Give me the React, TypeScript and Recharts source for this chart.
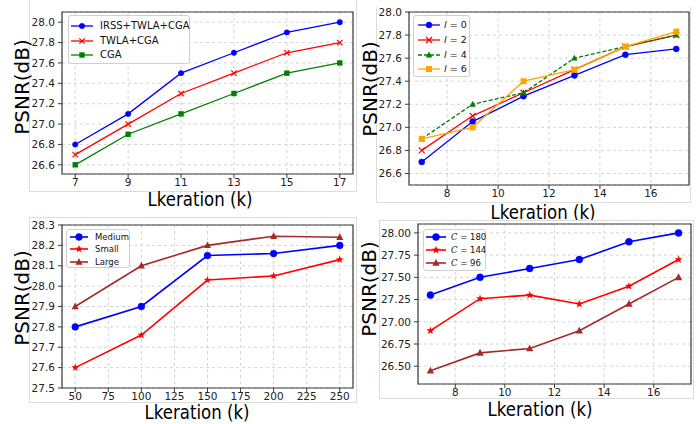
import React from "react";
import { LineChart, Line, XAxis, YAxis, CartesianGrid, ReferenceArea } from "recharts";

// x values
const kSteps = [7, 9, 11, 13, 15, 17];
const sizeSteps = [50, 100, 150, 200, 250];

// top-left: ablation
const irssTwlaCga = [26.8, 27.1, 27.5, 27.7, 27.9, 28.0];
const twlaCga = [26.7, 27.0, 27.3, 27.5, 27.7, 27.8];
const cgaOnly = [26.6, 26.9, 27.1, 27.3, 27.5, 27.6];

// top-right: l
const lZero = [26.7, 27.05, 27.27, 27.45, 27.63, 27.68];
const lTwo = [26.8, 27.1, 27.3, 27.5, 27.7, 27.8];
const lFour = [26.9, 27.2, 27.3, 27.6, 27.7, 27.8];
const lSix = [26.9, 27.0, 27.4, 27.5, 27.7, 27.83];

// bottom-left: model size
const medium = [27.8, 27.9, 28.15, 28.16, 28.2];
const small = [27.6, 27.76, 28.03, 28.05, 28.13];
const large = [27.9, 28.1, 28.2, 28.245, 28.24];

// bottom-right: C
const c180 = [27.3, 27.5, 27.6, 27.7, 27.9, 28.0];
const c144 = [26.9, 27.26, 27.3, 27.2, 27.4, 27.7];
const c96 = [26.45, 26.65, 26.7, 26.9, 27.2, 27.5];

// ticks
const kTicksOdd = [7, 9, 11, 13, 15, 17];
const kTicksEven = [8, 10, 12, 14, 16];
const sizeTicks = [50, 75, 100, 125, 150, 175, 200, 225, 250];
const psnrTicksA = [26.6, 26.8, 27.0, 27.2, 27.4, 27.6, 27.8, 28.0];
const psnrTicksB = [27.5, 27.6, 27.7, 27.8, 27.9, 28.0, 28.1, 28.2, 28.3];
const psnrTicksC = [26.5, 26.75, 27.0, 27.25, 27.5, 27.75, 28.0];

const FONT = "'DejaVu Sans', sans-serif";
const FRAME = "#3a3a3a";
const PANEL_EDGE = "#dcdcdc";

type Shape = "circle" | "square" | "x" | "triangle" | "star";
interface Series { name: React.ReactNode; key: string; values: number[]; color: string; shape: Shape; dash?: string }

function Marker({ shape, cx, cy, r, color }: { shape: Shape; cx: number; cy: number; r: number; color: string }) {
    if (cx == null || cy == null) return null;
    switch (shape) {
        case "circle":
            return <circle cx={cx} cy={cy} r={r} fill={color} stroke={color} strokeWidth={0.5} />;
        case "square":
            return <rect x={cx - r} y={cy - r} width={2 * r} height={2 * r} fill={color} />;
        case "x":
            return <path d={`M${cx - r},${cy - r}L${cx + r},${cy + r}M${cx - r},${cy + r}L${cx + r},${cy - r}`} stroke={color} strokeWidth={1.2} fill="none" />;
        case "triangle":
            return <polygon points={`${cx},${cy - r * 1.15} ${cx + r * 1.05},${cy + r * 0.8} ${cx - r * 1.05},${cy + r * 0.8}`} fill={color} />;
        case "star": {
            const pts: string[] = [];
            for (let i = 0; i < 10; i++) {
                const rr = i % 2 === 0 ? r * 1.2 : r * 0.5;
                const a = -Math.PI / 2 + (i * Math.PI) / 5;
                pts.push(`${cx + rr * Math.cos(a)},${cy + rr * Math.sin(a)}`);
            }
            return <polygon points={pts.join(" ")} fill={color} />;
        }
    }
    return null;
}

interface LegendCfg { left: number; top: number; w: number; h: number; first: number; gap: number; sx: number; sw: number; tx: number; fontSize: number }

function LegendBox({ cfg, series, r, lw }: { cfg: LegendCfg; series: Series[]; r: number; lw: number }) {
    return (
        <div style={{ position: "absolute", left: cfg.left, top: cfg.top, width: cfg.w, height: cfg.h, border: "1px solid #cfcfcf", borderRadius: 3, background: "rgba(255,255,255,0.85)", boxSizing: "border-box" }}>
            {series.map((s, i) => {
                const cy = cfg.first + i * cfg.gap;
                return (
                    <React.Fragment key={s.key}>
                        <svg style={{ position: "absolute", left: cfg.sx, top: cy - 6 }} width={cfg.sw} height={12}>
                            <line x1={0} y1={6} x2={cfg.sw} y2={6} stroke={s.color} strokeWidth={lw} strokeDasharray={s.dash} />
                            <Marker shape={s.shape} cx={cfg.sw / 2} cy={6} r={r} color={s.color} />
                        </svg>
                        <div style={{ position: "absolute", left: cfg.tx, top: cy, transform: "translateY(-50%)", fontFamily: FONT, fontSize: cfg.fontSize, lineHeight: 1, whiteSpace: "nowrap", color: "#111" }}>{s.name}</div>
                    </React.Fragment>
                );
            })}
        </div>
    );
}

interface PanelProps {
    left: number; top: number; width: number; height: number;
    margin: { top: number; right: number; bottom: number; left: number };
    yWidth: number;
    xs: number[]; series: Series[];
    xDomain: [number, number]; xTicks: number[];
    yDomain: [number, number]; yTicks: number[]; yDigits: number;
    r: number; lw: number;
    legend: LegendCfg;
    edge: { left: number; top: number; right: number; bottom: number; topLine: boolean; fill: boolean };
    yLabel: [number, number]; xLabel: [number, number];
}

function Panel(p: PanelProps) {
    const rows = p.xs.map((x, i) => {
        const row: Record<string, number> = { x };
        p.series.forEach(s => { row[s.key] = s.values[i]; });
        return row;
    });
    const tickStyle = { fontSize: 10.5, fill: "#222", fontFamily: FONT };
    return (
        <>
            <div style={{
                position: "absolute", left: p.edge.left, top: p.edge.top, width: p.edge.right - p.edge.left, height: p.edge.bottom - p.edge.top,
                borderLeft: `1px solid ${PANEL_EDGE}`, borderRight: `1px solid ${PANEL_EDGE}`, borderBottom: `1px solid ${PANEL_EDGE}`,
                borderTop: p.edge.topLine ? `1px solid ${PANEL_EDGE}` : "none", background: p.edge.fill ? "#fff" : "transparent", boxSizing: "border-box",
            }} />
            <div style={{ position: "absolute", left: p.left, top: p.top }}>
                <LineChart width={p.width} height={p.height} data={rows} margin={p.margin}>
                    <CartesianGrid strokeDasharray="3 3" stroke="#d4d4d4" />
                    <XAxis dataKey="x" type="number" domain={p.xDomain} ticks={p.xTicks} allowDataOverflow axisLine={false}
                        tickLine={{ stroke: FRAME }} tickSize={4} tickMargin={1} height={20} tick={tickStyle} interval={0} />
                    <YAxis type="number" domain={p.yDomain} ticks={p.yTicks} allowDataOverflow axisLine={false} width={p.yWidth}
                        tickLine={{ stroke: FRAME }} tickSize={4} tickMargin={3} tick={tickStyle} interval={0}
                        tickFormatter={(v: number) => v.toFixed(p.yDigits)} />
                    <ReferenceArea x1={p.xDomain[0]} x2={p.xDomain[1]} y1={p.yDomain[0]} y2={p.yDomain[1]} fill="none" fillOpacity={0} stroke={FRAME} strokeWidth={1.2} ifOverflow="visible" />
                    {p.series.map(s => (
                        <Line key={s.key} dataKey={s.key} type="linear" stroke={s.color} strokeWidth={p.lw} strokeDasharray={s.dash}
                            isAnimationActive={false}
                            dot={(d: any) => <Marker key={`${s.key}-${d.index}`} shape={s.shape} cx={d.cx} cy={d.cy} r={p.r} color={s.color} />} />
                    ))}
                </LineChart>
            </div>
            <div style={{ position: "absolute", left: p.yLabel[0], top: p.yLabel[1], transform: "translate(-50%,-50%) rotate(-90deg)", fontFamily: FONT, fontSize: 20, lineHeight: 1, whiteSpace: "nowrap", color: "#000" }}>PSNR(dB)</div>
            <div style={{ position: "absolute", left: p.xLabel[0], top: p.xLabel[1], transform: "translate(-50%,-50%) scaleX(0.85)", fontFamily: FONT, fontSize: 19.5, lineHeight: 0.9, whiteSpace: "nowrap", color: "#000" }}>Lkeration (k)</div>
            <LegendBox cfg={p.legend} series={p.series} r={p.r} lw={p.lw} />
        </>
    );
}

const lName = (n: number) => <span><i>l</i> = {n}</span>;
const cName = (n: number) => <span><i style={{ fontFamily: "'DejaVu Serif', serif" }}>C</i> = {n}</span>;

export default function App() {
    return (
        <div style={{ position: "absolute", left: 0, top: 0, width: 699, height: 424, background: "#fff", overflow: "hidden" }}>
            {/* top-left */}
            <Panel left={0} top={0} width={360} height={215} margin={{ top: 12, right: 7, bottom: 21, left: 17 }} yWidth={45}
                xs={kSteps} xDomain={[6.5, 17.5]} xTicks={kTicksOdd} yDomain={[26.51, 28.1]} yTicks={psnrTicksA} yDigits={1}
                series={[
                    { key: "a", name: "IRSS+TWLA+CGA", values: irssTwlaCga, color: "#0000ff", shape: "circle" },
                    { key: "b", name: "TWLA+CGA", values: twlaCga, color: "#ff0000", shape: "x" },
                    { key: "c", name: "CGA", values: cgaOnly, color: "#008000", shape: "square" },
                ]}
                r={2.7} lw={1.3}
                legend={{ left: 68, top: 15, w: 122, h: 49, first: 10, gap: 14.7, sx: 2, sw: 22, tx: 31, fontSize: 10 }}
                edge={{ left: 29, top: -2, right: 357, bottom: 192, topLine: false, fill: false }}
                yLabel={[22, 87]} xLabel={[200, 199.5]} />
            {/* top-right */}
            <Panel left={360} top={0} width={339} height={215} margin={{ top: 12, right: 10, bottom: 10, left: 9 }} yWidth={40}
                xs={kSteps} xDomain={[6.5, 17.5]} xTicks={kTicksEven} yDomain={[26.5, 28.0]} yTicks={psnrTicksA} yDigits={1}
                series={[
                    { key: "a", name: lName(0), values: lZero, color: "#0000ff", shape: "circle" },
                    { key: "b", name: lName(2), values: lTwo, color: "#ff0000", shape: "x" },
                    { key: "c", name: lName(4), values: lFour, color: "#008000", shape: "triangle", dash: "4 2" },
                    { key: "d", name: lName(6), values: lSix, color: "#ffa500", shape: "square" },
                ]}
                r={3} lw={1.3}
                legend={{ left: 413, top: 15, w: 57, h: 62, first: 9.3, gap: 14.6, sx: 4, sw: 22, tx: 30, fontSize: 9.5 }}
                edge={{ left: 376, top: 7, right: 691, bottom: 203, topLine: false, fill: false }}
                yLabel={[370, 89]} xLabel={[543, 213]} />
            {/* bottom-left */}
            <Panel left={0} top={210} width={360} height={214} margin={{ top: 15, right: 7, bottom: 16, left: 17 }} yWidth={45}
                xs={sizeSteps} xDomain={[40, 260]} xTicks={sizeTicks} yDomain={[27.5, 28.3]} yTicks={psnrTicksB} yDigits={1}
                series={[
                    { key: "a", name: "Medium", values: medium, color: "#0000ff", shape: "circle" },
                    { key: "b", name: "Small", values: small, color: "#ff0000", shape: "star" },
                    { key: "c", name: "Large", values: large, color: "#a52a2a", shape: "triangle" },
                ]}
                r={3.4} lw={1.6}
                legend={{ left: 66, top: 229, w: 64, h: 39, first: 6.7, gap: 12.7, sx: 3, sw: 18, tx: 28, fontSize: 8.5 }}
                edge={{ left: 29, top: 217, right: 357, bottom: 403, topLine: true, fill: true }}
                yLabel={[22, 298]} xLabel={[197, 413]} />
            {/* bottom-right */}
            <Panel left={360} top={210} width={339} height={214} margin={{ top: 14, right: 8, bottom: 20, left: 10 }} yWidth={48}
                xs={kSteps} xDomain={[6.5, 17.5]} xTicks={kTicksEven} yDomain={[26.3, 28.1]} yTicks={psnrTicksC} yDigits={2}
                series={[
                    { key: "a", name: cName(180), values: c180, color: "#0000ff", shape: "circle" },
                    { key: "b", name: cName(144), values: c144, color: "#ff0000", shape: "star" },
                    { key: "c", name: cName(96), values: c96, color: "#a52a2a", shape: "triangle" },
                ]}
                r={3.5} lw={1.6}
                legend={{ left: 423, top: 229, w: 63, h: 42, first: 7, gap: 13.2, sx: 2, sw: 20, tx: 27, fontSize: 8.5 }}
                edge={{ left: 379, top: 220, right: 694, bottom: 399, topLine: true, fill: true }}
                yLabel={[369, 289]} xLabel={[540, 409.5]} />
        </div>
    );
}
